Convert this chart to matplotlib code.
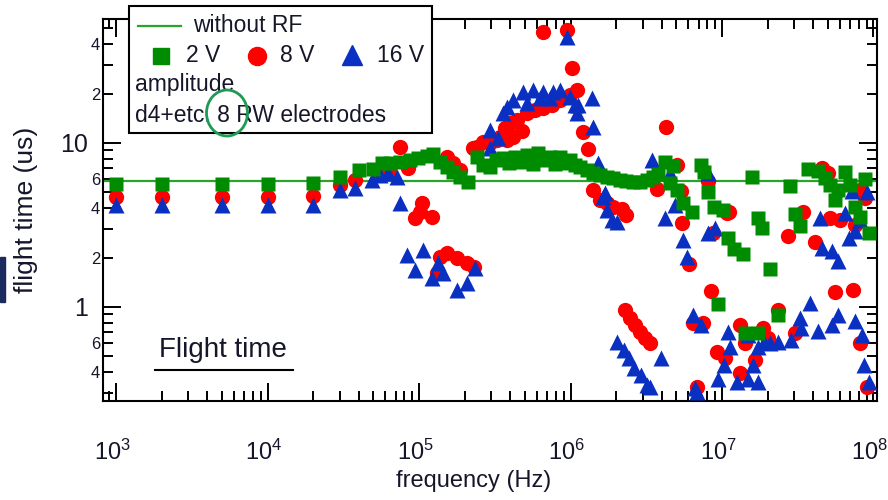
"""Время пролёта в зависимости от частоты RW-поля (амплитуда 2/8/16 В).

Рисуем в out.png, 888x500 пикселей.
"""

import matplotlib
matplotlib.use("Agg")  # без GUI, рендерим в PNG
import matplotlib.pyplot as plt  # noqa: E402
import numpy as np  # noqa: E402
from matplotlib.lines import Line2D  # noqa: E402
from matplotlib.patches import Ellipse, Rectangle  # noqa: E402
from matplotlib.ticker import FixedLocator, FuncFormatter, LogLocator, NullFormatter  # noqa: E402
from matplotlib.transforms import ScaledTranslation  # noqa: E402

plt.rcParams["font.family"] = ["Liberation Sans", "DejaVu Sans"]

# --- Данные (частота в Гц, время в мкс) -------------------------------------

NO_RF_TIME = 5.9  # без RF — горизонтальная линия

GREEN_F = [1e3, 2e3, 5e3, 1e4, 2e4, 3.0e4, 4.0e4, 5.0e4,
           5.7e4, 6.4e4, 7.5e4, 8.7e4, 9.8e4, 1.13e5, 1.24e5, 1.38e5, 1.53e5, 1.68e5, 1.87e5, 2.1e5,
           2.41e5, 2.64e5, 2.94e5, 3.22e5, 3.58e5, 3.93e5, 4.3e5, 4.71e5, 5.16e5, 5.65e5,
           6.1e5, 6.68e5, 7.32e5, 7.9e5, 8.53e5, 9.2e5, 9.94e5, 1.07e6, 1.16e6, 1.29e6,
           1.41e6, 1.57e6, 1.74e6, 1.91e6, 2.12e6, 2.32e6, 2.59e6, 2.88e6, 3.2e6, 3.5e6,
           3.78e6, 4.2e6, 4.75e6, 4.54e6, 5.05e6, 5.53e6, 6.34e6, 7.27e6, 7.6e6, 8.09e6,
           8.85e6, 1.02e7, 1.1e7, 1.2e7, 1.38e7, 9.4e6, 1.58e7, 1.73e7, 1.84e7, 2.07e7,
           1.42e7, 1.73e7, 2.34e7, 2.81e7, 3.03e7, 3.27e7, 3.7e7, 4.3e7, 4.79e7, 5.16e7,
           5.57e7, 5.83e7, 6.49e7, 7.0e7, 7.55e7, 8.15e7, 8.79e7, 9.34e7]
GREEN_T = [5.6, 5.6, 5.6, 5.6, 5.7, 6.2, 6.8, 6.9,
           7.55, 7.55, 7.66, 7.87, 8.1, 8.34, 8.57, 7.66, 7.14, 6.66, 6.2, 5.78,
           8.22, 7.35, 7.14, 7.87, 8.1, 7.55, 8.22, 7.66, 8.45, 7.45,
           8.69, 7.87, 8.22, 7.45, 8.22, 7.55, 7.87, 7.35, 7.14, 6.85,
           6.56, 6.38, 6.2, 6.12, 5.95, 5.86, 5.78, 5.78, 5.95, 6.2,
           6.47, 7.66, 7.24, 5.7, 5.17, 4.3, 3.79, 7.35, 6.66, 5.02,
           4.07, 3.9, 2.63, 2.26, 2.1, 1.04, 6.2, 3.49, 3.03, 1.71,
           0.69, 0.69, 0.89, 5.47, 3.69, 3.12, 6.93, 6.74, 6.12, 5.55,
           4.49, 5.17, 6.66, 5.55, 4.07, 3.54, 6.03, 2.83]

RED_F = [1e3, 2e3, 5e3, 1e4, 2e4, 3e4, 3.78e4, 5.53e4, 6.45e4, 7.5e4, 8.45e4,
         9.4e4, 1.02e5, 1.05e5, 1.22e5,
         1.38e5, 1.53e5, 1.78e5, 2.07e5, 2.31e5, 1.32e5,
         1.53e5, 1.68e5, 1.87e5,
         2.27e5, 2.41e5, 2.64e5, 2.94e5, 3.27e5, 3.43e5, 3.7e5, 3.99e5, 4.44e5, 5.16e5,
         5.83e5, 6.58e5, 7.55e5, 8.53e5, 9.94e5, 3.8e5, 4.2e5, 4.8e5,
         6.58e5, 9.5e5, 1.02e6, 1.1e6, 1.21e6, 1.31e6,
         1.41e6, 1.57e6, 1.74e6, 1.91e6, 2.19e6, 2.32e6,
         3.72e6, 4.27e6, 5.05e6, 5.36e6, 5.44e6, 8.1e6, 1.11e7, 8.73e6, 6.05e6, 8.45e6,
         2.29e6, 2.47e6, 2.67e6, 2.88e6, 3.1e6, 3.35e6,
         6.44e6, 7.5e6, 9.27e6, 1.05e7, 1.32e7, 6.84e6,
         1.42e7, 1.32e7, 1.87e7, 1.65e7, 2.01e7, 2.34e7, 3.03e7,
         5.57e7, 7.33e7, 8.15e7, 9.06e7,
         1.08e7, 2.73e7, 3.43e7, 4.11e7, 4.57e7, 5.01e7, 5.16e7, 6.01e7, 7.55e7, 8.15e7, 8.79e7]
RED_T = [4.7, 4.7, 4.7, 4.7, 4.75, 5.55, 5.95, 6.38, 6.56, 9.46, 7.04,
         3.49, 3.79, 4.3, 3.54,
         2.02, 2.13, 1.99, 1.85, 1.75, 1.61,
         8.22, 7.55, 6.8,
         9.33, 9.46, 10.1, 10.0, 10.4, 10.9, 12.3, 13.2, 13.8, 15.2,
         15.9, 16.3, 17.1, 18.3, 19.6, 10.4, 10.8, 11.8,
         47.5, 48.9, 28.6, 21.0, 11.7, 9.19,
         5.17, 4.49, 4.3, 4.07, 3.96, 3.64,
         5.25, 12.5, 7.35, 5.09, 3.25, 5.86, 3.79, 2.83, 1.83, 1.25,
         0.96, 0.857, 0.777, 0.705, 0.647, 0.603,
         0.798, 0.798, 0.532, 0.489, 0.396, 0.325,
         0.603, 0.777, 0.744, 0.475, 0.647, 0.96, 0.693,
         1.23, 1.27, 0.603, 0.325,
         3.74, 2.71, 3.79, 2.49, 7.04, 6.56, 3.49, 3.39, 3.16, 5.17, 4.62]

BLUE_F = [1e3, 2e3, 5e3, 1e4, 2e4, 3e4, 3.78e4, 4.9e4, 5.53e4, 6.24e4, 7.16e4, 7.5e4,
          8.34e4, 1.06e5, 9.4e4, 1.33e5, 1.22e5, 1.44e5, 1.78e5, 2.07e5, 2.34e5,
          9.5e5,
          2.94e5, 3.32e5, 2.94e5, 3.58e5, 3.81e5, 4.17e5, 4.85e5, 5.65e5, 6.58e5, 7.66e5,
          8.53e5, 9.94e5, 1.12e6, 1.39e6, 1.1e6, 1.41e6, 5.16e5, 6.3e5, 7.33e5, 1.07e6,
          1.52e6, 1.64e6, 1.74e6, 1.88e6, 2.03e6, 1.69e6,
          3.45e6, 4.2e6, 4.54e6, 4.9e6, 5.53e6, 5.88e6, 8.09e6, 8.09e6, 9.0e6,
          5.32e7, 5.83e7, 4.57e7, 6.89e7, 7.55e7, 7.21e7, 9.06e7, 6.49e7, 4.43e7, 8.15e7,
          6.44e6, 7.27e6, 2.03e6, 2.25e6, 2.43e6, 2.62e6, 2.92e6, 3.2e6, 3.95e6, 6.84e6,
          9.42e6, 1.03e7, 1.1e7, 1.49e7, 1.6e7, 1.49e7, 1.89e7, 2.34e7, 2.85e7, 3.32e7,
          3.81e7, 4.3e7, 5.32e7, 5.83e7, 7.55e7, 8.4e7, 8.65e7, 9.34e7, 3.27e7, 2.07e7,
          1.73e7, 1.13e7, 1.26e7, 1.73e7, 3.35e6, 6.64e6]
BLUE_T = [4.2, 4.2, 4.2, 4.2, 4.2, 5.17, 5.32, 5.95, 6.38, 6.56, 6.2, 4.3,
          2.07, 2.23, 1.68, 1.85, 1.5, 1.61, 1.27, 1.4, 1.73,
          44.3,
          12.0, 10.7, 9.33, 15.2, 16.6, 18.3, 20.5, 21.0, 20.5, 20.5,
          21.0, 19.1, 17.1, 18.8, 15.2, 12.5, 17.5, 18.8, 18.8, 17.1,
          7.55, 4.69, 3.9, 3.39, 3.3, 4.96,
          7.87, 3.49, 6.56, 4.19, 2.56, 2.02, 6.56, 2.83, 3.03,
          2.19, 1.9, 2.29, 2.63, 2.91, 5.09, 5.0, 3.74, 3.49, 3.39,
          0.894, 0.777, 0.612, 0.547, 0.489, 0.425, 0.385, 0.334, 0.489, 0.303,
          0.364, 0.443, 0.705, 0.364, 0.443, 0.675, 0.612, 0.612, 0.63, 0.744,
          1.06, 0.714, 0.777, 0.894, 0.822, 0.675, 0.443, 0.349, 0.857, 0.6,
          0.57, 0.57, 0.35, 0.35, 0.325, 0.32]

X_RANGE = (820, 1.055e8)
Y_RANGE = (0.267, 57)
Y_MAJOR = [1, 10]
Y_MINOR = [m * 10.0 ** e for e in (-1, 0, 1) for m in range(2, 10)]

GREEN = "#008c00"
LINE_GREEN = "#2aa52a"
RED = "#ff0000"
BLUE = "#0a30c2"
INK = "#16162a"

# --- Разметка в пикселях исходной картинки ----------------------------------

W, H = 888, 500


def fx(x):
    return x / W


def fy(y):
    return 1 - y / H


def minor_label(v, pos):
    """Igor-стиль: подписываем только 2, 4, 6 внутри декады."""
    lead = int(round(v / 10 ** np.floor(np.log10(v) + 1e-9)))
    return str(lead) if lead in (2, 4, 6) else ""


fig = plt.figure(figsize=(W / 100, H / 100), dpi=100)
ax = fig.add_axes([fx(103), fy(401), (877 - 103) / W, (401 - 19) / H])
ax.set_xscale("log")
ax.set_yscale("log")
ax.set_xlim(*X_RANGE)
ax.set_ylim(*Y_RANGE)

ax.axhline(NO_RF_TIME, color=LINE_GREEN, lw=1.6, zorder=2)
ax.plot(RED_F, RED_T, "o", ms=11, color=RED, mec="none", zorder=3)
ax.plot(BLUE_F, BLUE_T, "^", ms=12, color=BLUE, mec="none", zorder=4)
ax.plot(GREEN_F, GREEN_T, "s", ms=9.5, color=GREEN, mec="none", zorder=5)

# оси: тики внутрь со всех сторон
for sp in ax.spines.values():
    sp.set_linewidth(1.5)
ax.tick_params(which="both", direction="in", top=True, right=True, width=1.4, colors="black",
               labelcolor=INK)
ax.tick_params(which="major", length=13)
ax.tick_params(which="minor", length=7)

ax.xaxis.set_major_locator(LogLocator(base=10, numticks=12))
ax.xaxis.set_minor_locator(LogLocator(base=10, subs=np.arange(2, 10), numticks=12))
ax.xaxis.set_minor_formatter(NullFormatter())
ax.tick_params(axis="x", which="major", labelsize=17, pad=28)
# подписи 10^n чуть левее, чтобы 10^8 не обрезалась краем
shift = ScaledTranslation(-4 / 100, 0, fig.dpi_scale_trans)
for t in ax.xaxis.get_major_ticks():
    t.label1.set_transform(t.label1.get_transform() + shift)

ax.yaxis.set_major_locator(FixedLocator(Y_MAJOR))
ax.yaxis.set_major_formatter(FuncFormatter(lambda v, p: f"{v:g}"))
ax.yaxis.set_minor_locator(FixedLocator(Y_MINOR))
ax.yaxis.set_minor_formatter(FuncFormatter(minor_label))
ax.tick_params(axis="y", which="major", labelsize=18, pad=11)
ax.tick_params(axis="y", which="minor", labelsize=12, pad=2)

ax.set_xlabel("frequency (Hz)", fontsize=17, color=INK)
ax.xaxis.set_label_coords((474 - 103) / 774, -(470 - 401) / 382)
ax.set_ylabel("flight time (us)", fontsize=19, color=INK)
ax.yaxis.set_label_coords(-(103 - 38) / 774, 0.5)

fig.text(fx(159), fy(350), "Flight time", fontsize=20, color=INK, ha="left", va="center")
fig.add_artist(Line2D([fx(155), fx(293)], [fy(370), fy(370)], color="black", lw=1.5))

# тёмный обрезок слева от подписи оси
fig.add_artist(Rectangle((0, fy(302)), 5 / W, 45 / H, transform=fig.transFigure,
                         color="#1c2b5e", zorder=1))

# --- Легенда (рамка поверх верхней оси) -------------------------------------

fig.add_artist(Rectangle((fx(129), fy(133)), (432 - 129) / W, (133 - 6) / H,
                         transform=fig.transFigure, fc="white", ec="black", lw=1.5, zorder=10))
fig.add_artist(Line2D([fx(138), fx(181)], [fy(26), fy(26)], color=LINE_GREEN, lw=1.6, zorder=11))
fig.add_artist(Line2D([fx(161)], [fy(56)], marker="s", ms=12, color=GREEN, ls="none", zorder=11))
fig.add_artist(Line2D([fx(257)], [fy(56)], marker="o", ms=13, color=RED, ls="none", zorder=11))
fig.add_artist(Line2D([fx(352)], [fy(55)], marker="^", ms=14, color=BLUE, ls="none", zorder=11))

legend_texts = [
    (193, 26, "without RF"),
    (186, 56, "2 V"),
    (280, 56, "8 V"),
    (377, 56, "16 V"),
    (135, 85, "amplitude"),
    (135, 115, "d4+etc. 8 RW electrodes"),
]
for x, y, s in legend_texts:
    fig.text(fx(x), fy(y), s, fontsize=16.5, color=INK, ha="left", va="center", zorder=12)

# зелёный кружок вокруг «8»
fig.add_artist(Ellipse((fx(227), fy(113)), 41 / W, 46 / H, transform=fig.transFigure,
                       fill=False, ec="#1f9a55", lw=2, zorder=13))

fig.savefig("out.png", dpi=100)
